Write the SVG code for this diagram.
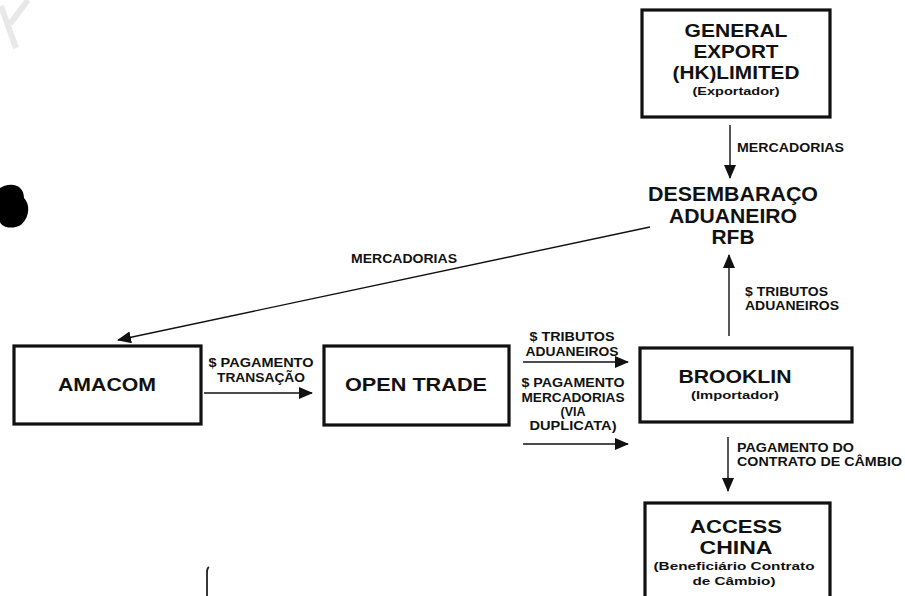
<svg xmlns="http://www.w3.org/2000/svg" width="905" height="596" viewBox="0 0 905 596">
<style>
.box{fill:#fff;stroke:#111;stroke-width:3.2}
.t{font-family:"Liberation Sans",Arial,sans-serif;font-weight:bold;fill:#111;text-anchor:middle}
.big{font-size:19px}
.sm{font-size:11px}
.lb{font-family:"Liberation Sans",Arial,sans-serif;font-weight:bold;fill:#111;font-size:12.5px}
.c{text-anchor:middle}
.ln{stroke:#111;stroke-width:1.4;fill:none}
</style>
<defs>
<marker id="ah" markerWidth="14" markerHeight="12" refX="13" refY="6" orient="auto" markerUnits="userSpaceOnUse">
<path d="M0,0 L14,6 L0,12 Z" fill="#111"/>
</marker>
</defs>
<rect width="905" height="596" fill="#fff"/>
<g id="watermark" stroke="#e8e8e8" stroke-width="6" fill="none">
<path d="M1,6 L16,48"/>
<path d="M10,24 L28,0"/>
</g>
<g id="blob"><path d="M4,186 C16,182 24,188 24,198 C30,204 30,216 22,224 C14,230 2,228 0,222 L0,188 Z" fill="#000"/></g>
<g id="bracket"><path d="M209,567 C207,568 207,570 207,574 L207,596" stroke="#222" stroke-width="1.8" fill="none"/></g>

<g id="connectors">
<line class="ln" x1="730" y1="125" x2="730" y2="178" marker-end="url(#ah)"/>
<line class="ln" x1="650" y1="227" x2="118" y2="340" marker-end="url(#ah)"/>
<line class="ln" x1="729" y1="336" x2="729" y2="255" marker-end="url(#ah)"/>
<line class="ln" x1="204" y1="393" x2="312" y2="393" marker-end="url(#ah)"/>
<line class="ln" x1="523" y1="362" x2="628" y2="362" marker-end="url(#ah)"/>
<line class="ln" x1="523" y1="444" x2="628" y2="444" marker-end="url(#ah)"/>
<line class="ln" x1="728" y1="437" x2="728" y2="491" marker-end="url(#ah)"/>
<text class="lb" x="737" y="152" textLength="107" lengthAdjust="spacingAndGlyphs">MERCADORIAS</text>
<text class="lb" x="351" y="263" textLength="106" lengthAdjust="spacingAndGlyphs">MERCADORIAS</text>
<text class="lb" x="745" y="296" textLength="83" lengthAdjust="spacingAndGlyphs">$ TRIBUTOS</text>
<text class="lb" x="745" y="310" textLength="94" lengthAdjust="spacingAndGlyphs">ADUANEIROS</text>
<text class="lb c" x="261" y="367" textLength="105" lengthAdjust="spacingAndGlyphs">$ PAGAMENTO</text>
<text class="lb c" x="261" y="382" textLength="88" lengthAdjust="spacingAndGlyphs">TRANSAÇÃO</text>
<text class="lb c" x="572" y="341" textLength="85" lengthAdjust="spacingAndGlyphs">$ TRIBUTOS</text>
<text class="lb c" x="572" y="356" textLength="93" lengthAdjust="spacingAndGlyphs">ADUANEIROS</text>
<text class="lb c" x="573" y="387" textLength="103" lengthAdjust="spacingAndGlyphs">$ PAGAMENTO</text>
<text class="lb c" x="573" y="402" textLength="103" lengthAdjust="spacingAndGlyphs">MERCADORIAS</text>
<text class="lb c" x="573" y="416">(VIA</text>
<text class="lb c" x="573" y="430" textLength="87" lengthAdjust="spacingAndGlyphs">DUPLICATA)</text>
<text class="lb" x="737" y="452" textLength="117" lengthAdjust="spacingAndGlyphs">PAGAMENTO DO</text>
<text class="lb" x="737" y="466" textLength="165" lengthAdjust="spacingAndGlyphs">CONTRATO DE CÂMBIO</text>
</g>

<g id="general-export">
<rect class="box" x="642" y="10" width="188" height="107"/>
<text class="t big" x="736" y="37" textLength="103" lengthAdjust="spacingAndGlyphs">GENERAL</text>
<text class="t big" x="736" y="58" textLength="85" lengthAdjust="spacingAndGlyphs">EXPORT</text>
<text class="t big" x="736" y="79" textLength="127" lengthAdjust="spacingAndGlyphs">(HK)LIMITED</text>
<text class="t sm" x="736" y="95" textLength="87" lengthAdjust="spacingAndGlyphs">(Exportador)</text>
</g>

<g id="desembaraco">
<text class="t" style="font-size:20px" x="733" y="201" textLength="170" lengthAdjust="spacingAndGlyphs">DESEMBARAÇO</text>
<text class="t" style="font-size:20px" x="733" y="223" textLength="128" lengthAdjust="spacingAndGlyphs">ADUANEIRO</text>
<text class="t" style="font-size:20px" x="733" y="244" textLength="43" lengthAdjust="spacingAndGlyphs">RFB</text>
</g>

<g id="amacom">
<rect class="box" x="14" y="346" width="187" height="78"/>
<text class="t big" x="107" y="391" textLength="98" lengthAdjust="spacingAndGlyphs">AMACOM</text>
</g>

<g id="open-trade">
<rect class="box" x="324" y="346" width="185" height="79"/>
<text class="t big" x="416" y="391" textLength="142" lengthAdjust="spacingAndGlyphs">OPEN TRADE</text>
</g>

<g id="brooklin">
<rect class="box" x="640" y="348" width="212" height="74"/>
<text class="t big" x="735" y="383" textLength="113" lengthAdjust="spacingAndGlyphs">BROOKLIN</text>
<text class="t sm" x="735" y="399" textLength="88" lengthAdjust="spacingAndGlyphs">(Importador)</text>
</g>

<g id="access-china">
<rect class="box" x="645" y="503" width="185" height="110"/>
<text class="t big" x="736" y="533" textLength="92" lengthAdjust="spacingAndGlyphs">ACCESS</text>
<text class="t big" x="736" y="554" textLength="73" lengthAdjust="spacingAndGlyphs">CHINA</text>
<text class="t sm" x="734" y="570" textLength="161" lengthAdjust="spacingAndGlyphs">(Beneficiário Contrato</text>
<text class="t sm" x="734" y="585" textLength="83" lengthAdjust="spacingAndGlyphs">de Câmbio)</text>
</g>
</svg>
